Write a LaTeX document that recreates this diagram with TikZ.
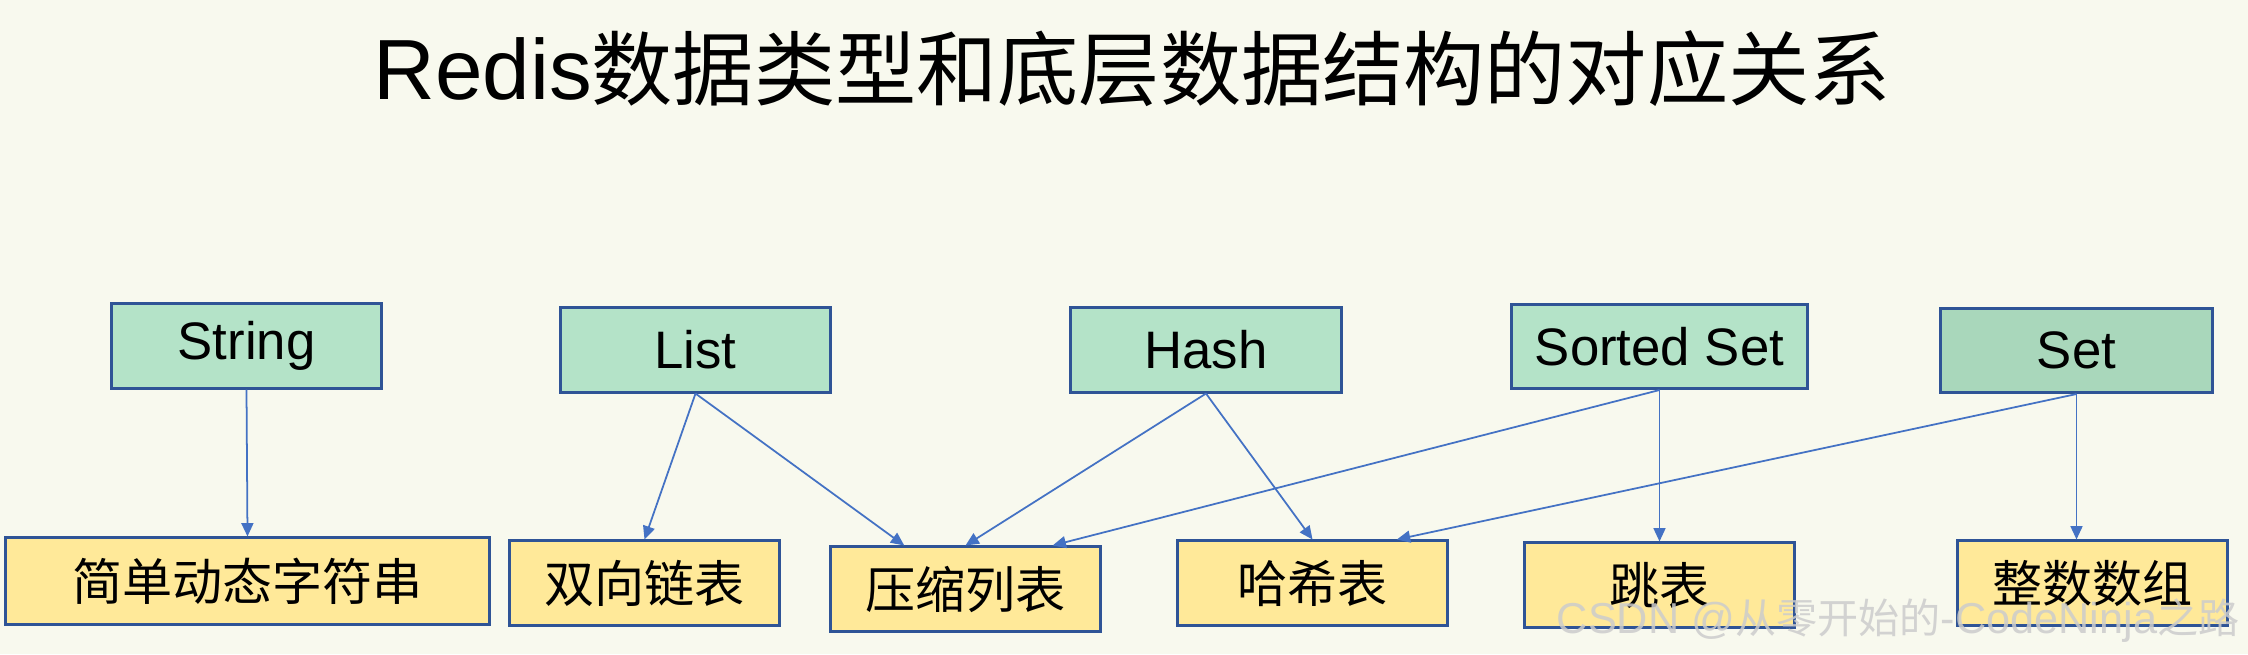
\documentclass[tikz,border=0pt]{standalone}
\usepackage{fontspec}
\setmainfont{Liberation Sans}
\newfontfamily\cjk{Noto Sans CJK SC}[Scale=0.95]
\usetikzlibrary{calc,arrows.meta}
\definecolor{bgcol}{RGB}{248,249,238}
\definecolor{typefill}{RGB}{180,227,200}
\definecolor{setfill}{RGB}{169,215,187}
\definecolor{structfill}{RGB}{255,233,153}
\definecolor{boxline}{RGB}{47,84,150}
\definecolor{linkcol}{RGB}{68,114,196}

\begin{document}
\begin{tikzpicture}[x={(0.01cm,0)},y={(0,-0.01cm)},
	box/.style={draw=boxline,line width=0.85pt,minimum width=2.69cm,minimum height=0.84cm,inner sep=0pt,font=\fontsize{15pt}{18pt}\selectfont},
	typebox/.style={box,fill=typefill},
	structbox/.style={box,fill=structfill},
	link/.style={draw=linkcol,line width=0.5pt,-{Triangle[length=3.8pt,width=3.4pt]}}]
			\fill[bgcol] (0,0) rectangle (2248,654);
			\useasboundingbox (0,0) rectangle (2248,654);
			\node[anchor=base,font=\fontsize{24.3pt}{29pt}\selectfont] (title) at (1132,99) {Redis{\cjk 数据类型和底层数据结构的对应关系}};
			% data types
			\node[typebox] (string) at (246.5,346) {String};
			\node[typebox] (list) at (695.5,350) {List};
			\node[typebox,minimum width=2.70cm] (hash) at (1206,350) {Hash};
			\node[typebox,minimum width=2.95cm] (sorted) at (1659.5,346.5) {Sorted Set};
			\node[box,fill=setfill,minimum width=2.71cm] (set) at (2076.5,350.5) {Set};
			% structures
			\node[structbox,minimum width=4.83cm,minimum height=0.86cm] (sds) at (247.5,581) {\cjk 简单动态字符串};
			\node[structbox] (dlist) at (644.5,583) {\cjk 双向链表};
			\node[structbox] (zip) at (965.5,589) {\cjk 压缩列表};
			\node[structbox] (ht) at (1312.5,583) {\cjk 哈希表};
			\node[structbox] (skip) at (1659.5,585) {\cjk 跳表};
			\node[structbox] (intset) at (2092.5,583) {\cjk 整数数组};
			% links
			\draw[link] (string.south) -- (sds.north);
			\draw[link] (list.south) -- (dlist.north);
			\draw[link] (list.south) -- ($(zip.north west)!0.275!(zip.north east)$);
			\draw[link] (hash.south) -- (zip.north);
			\draw[link] (sorted.south) -- ($(zip.north west)!0.82!(zip.north east)$);
			\draw[link] (hash.south) -- (ht.north);
			\draw[link] (sorted.south) -- (skip.north);
			\draw[link] (set.south) -- ($(ht.north west)!0.81!(ht.north east)$);
			\draw[link] (set.south) -- (set.south |- intset.north);
			\node[anchor=east,inner sep=0pt,text=gray!40,opacity=0.85,font=\fontsize{12.3pt}{15pt}\selectfont] (mark) at (2240,621) {CSDN @{\cjk 从零开始的}-CodeNinja{\cjk 之路}};
		\end{tikzpicture}
\end{document}
